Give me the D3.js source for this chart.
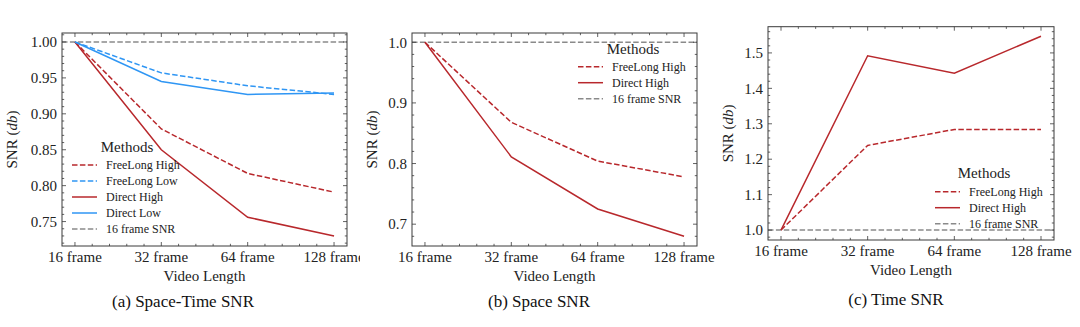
<!DOCTYPE html>
<html>
<head>
<meta charset="utf-8">
<script src="https://d3js.org/d3.v7.min.js"></script>
<style>
  body { margin: 0; background: #fff; }
  svg { display: block; }
</style>
</head>
<body>
<div id="chart"></div>
<script>
// frame counts on the x axis
var lengths = ["16 frame", "32 frame", "64 frame", "128 frame"];

// (a) space-time SNR
var stFreeLongHigh = [1.0, 0.879, 0.817, 0.791];
var stFreeLongLow  = [1.0, 0.957, 0.939, 0.927];
var stDirectHigh   = [1.0, 0.850, 0.756, 0.730];
var stDirectLow    = [1.0, 0.945, 0.927, 0.929];
var stTicks = [0.75, 0.80, 0.85, 0.90, 0.95, 1.00];

// (b) space SNR
var sFreeLongHigh = [1.0, 0.868, 0.804, 0.778];
var sDirectHigh   = [1.0, 0.811, 0.725, 0.680];
var sTicks = [0.7, 0.8, 0.9, 1.0];

// (c) time SNR
var tFreeLongHigh = [1.0, 1.239, 1.284, 1.284];
var tDirectHigh   = [1.0, 1.492, 1.443, 1.547];
var tTicks = [1.0, 1.1, 1.2, 1.3, 1.4, 1.5];

var baseline = 1.0;   // 16 frame SNR reference

var RED = "#b8282c", BLUE = "#2f96f4", GRAY = "#8a8a8a";
var SERIF = "'Liberation Serif', 'Times New Roman', serif";

var W = 1080, H = 327;
var svg = d3.select("#chart").append("svg").attr("width", W).attr("height", H);

var panels = [
  { clip: [0, 360], frame: { l: 62, r: 347, t: 33, b: 246 },
    yDomain: [0.716, 1.0125], ticks: stTicks, fmt: ".2f", minor: 0.01,
    ylabX: 12, xlabY: 262, titleY: 281, capY: 307, capX: 183,
    caption: "(a) Space-Time SNR",
    series: [
      { name: "FreeLong High", v: stFreeLongHigh, c: RED, dash: true },
      { name: "FreeLong Low", v: stFreeLongLow, c: BLUE, dash: true },
      { name: "Direct High", v: stDirectHigh, c: RED, dash: false },
      { name: "Direct Low", v: stDirectLow, c: BLUE, dash: false }
    ],
    legend: { x: 72, titleX: 127, titleY: 152, y0: 165 } },
  { clip: [360, 720], frame: { l: 412, r: 697, t: 33, b: 246 },
    yDomain: [0.664, 1.0153], ticks: sTicks, fmt: ".1f", minor: 0.02,
    ylabX: 372, xlabY: 262, titleY: 281, capY: 307, capX: 539,
    caption: "(b) Space SNR",
    series: [
      { name: "FreeLong High", v: sFreeLongHigh, c: RED, dash: true },
      { name: "Direct High", v: sDirectHigh, c: RED, dash: false }
    ],
    legend: { x: 578, titleX: 633, titleY: 54, y0: 66.7 } },
  { clip: [720, 1080], frame: { l: 768, r: 1054, t: 26.7, b: 240 },
    yDomain: [0.972, 1.574], ticks: tTicks, fmt: ".1f", minor: 0.02,
    ylabX: 728, xlabY: 256, titleY: 275, capY: 305, capX: 896,
    caption: "(c) Time SNR",
    series: [
      { name: "FreeLong High", v: tFreeLongHigh, c: RED, dash: true },
      { name: "Direct High", v: tDirectHigh, c: RED, dash: false }
    ],
    legend: { x: 935, titleX: 984, titleY: 178, y0: 191.7 } }
];

function label(sel, size) {
  return sel.attr("font-family", SERIF).attr("font-size", size).attr("fill", "#222");
}

panels.forEach(function(p, pi) {
  var f = p.frame;
  svg.append("clipPath").attr("id", "clip" + pi)
    .append("rect").attr("x", p.clip[0]).attr("y", 0)
    .attr("width", p.clip[1] - p.clip[0]).attr("height", H);
  var g = svg.append("g").attr("clip-path", "url(#clip" + pi + ")");

  var x = d3.scaleLinear().domain([-0.15, 3.15]).range([f.l, f.r]);
  var y = d3.scaleLinear().domain(p.yDomain).range([f.b, f.t]);

  var lineGen = d3.line().x(function(d, i) { return x(i); }).y(function(d) { return y(d); });

  // reference line at 1.0 across the whole frame
  g.append("line")
    .attr("x1", f.l).attr("x2", f.r)
    .attr("y1", y(baseline)).attr("y2", y(baseline))
    .attr("stroke", GRAY).attr("stroke-width", 1.5).attr("stroke-dasharray", "5.5,2.4");

  p.series.forEach(function(s) {
    g.append("path").datum(s.v)
      .attr("d", lineGen)
      .attr("fill", "none")
      .attr("stroke", s.c)
      .attr("stroke-width", 1.5)
      .attr("stroke-dasharray", s.dash ? "5.5,2.4" : null);
  });

  // frame
  g.append("rect").attr("x", f.l).attr("y", f.t)
    .attr("width", f.r - f.l).attr("height", f.b - f.t)
    .attr("fill", "none").attr("stroke", "#3a3a3a").attr("stroke-width", 1);

  // ticks point inward on every side
  var ticks = g.append("g").attr("stroke", "#3a3a3a").attr("stroke-width", 0.8);
  d3.range(0, 3.001, 0.2).forEach(function(v) {
    var major = Math.abs(v - Math.round(v)) < 1e-6;
    var len = major ? 4 : 2.2;
    ticks.append("line").attr("x1", x(v)).attr("x2", x(v)).attr("y1", f.b).attr("y2", f.b - len);
    ticks.append("line").attr("x1", x(v)).attr("x2", x(v)).attr("y1", f.t).attr("y2", f.t + len);
  });
  var lo = Math.ceil(p.yDomain[0] / p.minor - 1e-6), hi = Math.floor(p.yDomain[1] / p.minor + 1e-6);
  d3.range(lo, hi + 1).forEach(function(k) {
    var v = k * p.minor;
    var major = p.ticks.some(function(t) { return Math.abs(t - v) < 1e-6; });
    var len = major ? 4 : 2.2;
    ticks.append("line").attr("y1", y(v)).attr("y2", y(v)).attr("x1", f.l).attr("x2", f.l + len);
    ticks.append("line").attr("y1", y(v)).attr("y2", y(v)).attr("x1", f.r).attr("x2", f.r - len);
  });

  // tick labels
  label(g.selectAll(".yl").data(p.ticks).enter().append("text"), 15)
    .attr("x", f.l - 5).attr("y", function(d) { return y(d); })
    .attr("dy", "0.35em").attr("text-anchor", "end")
    .text(d3.format(p.fmt));
  label(g.selectAll(".xl").data(lengths).enter().append("text"), 15)
    .attr("x", function(d, i) { return x(i); }).attr("y", p.xlabY)
    .attr("text-anchor", "middle")
    .text(function(d) { return d; });

  // axis titles
  label(g.append("text"), 15).attr("x", (f.l + f.r) / 2).attr("y", p.titleY)
    .attr("text-anchor", "middle").text("Video Length");
  var yt = label(g.append("text"), 15)
    .attr("transform", "translate(" + p.ylabX + "," + ((f.t + f.b) / 2) + ") rotate(-90)")
    .attr("dy", "0.35em").attr("text-anchor", "middle");
  yt.append("tspan").text("SNR (");
  yt.append("tspan").attr("font-style", "italic").text("db");
  yt.append("tspan").text(")");

  // legend
  var L = p.legend;
  var items = p.series.concat([{ name: "16 frame SNR", c: GRAY, dash: true }]);
  label(g.append("text"), 15).attr("x", L.titleX).attr("y", L.titleY)
    .attr("text-anchor", "middle").text("Methods");
  var rows = g.selectAll(".lg").data(items).enter().append("g")
    .attr("transform", function(d, i) { return "translate(" + L.x + "," + (L.y0 + i * 16) + ")"; });
  rows.append("line").attr("x1", 0).attr("x2", 25).attr("y1", 0).attr("y2", 0)
    .attr("stroke", function(d) { return d.c; }).attr("stroke-width", 1.5)
    .attr("stroke-dasharray", function(d) { return d.dash ? "5.5,2.4" : null; });
  label(rows.append("text"), 12).attr("x", 34).attr("dy", "0.35em")
    .text(function(d) { return d.name; });

  // subfigure caption
  label(svg.append("text"), 17).attr("x", p.capX).attr("y", p.capY)
    .attr("text-anchor", "middle").attr("fill", "#111")
    .text(p.caption);
});
</script>
</body>
</html>
